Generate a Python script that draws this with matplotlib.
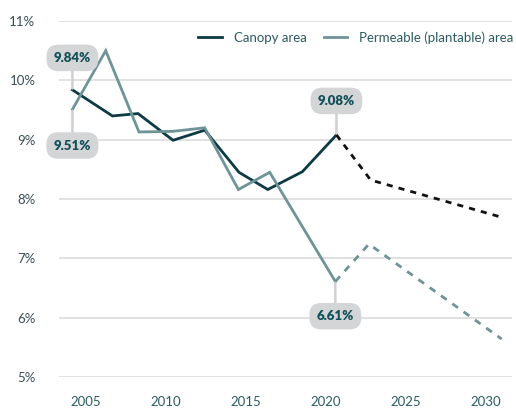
import matplotlib
matplotlib.use("Agg")
import matplotlib.pyplot as plt

plt.rcParams['font.family'] = ['Lato', 'DejaVu Sans']

canopy_years = [2004.17, 2006.67, 2008.27, 2010.46, 2012.44, 2014.58, 2016.38, 2018.54, 2020.67]
canopy_vals = [9.84, 9.40, 9.44, 8.99, 9.16, 8.45, 8.16, 8.46, 9.08]
canopy_proj_years = [2020.67, 2022.81, 2030.9]
canopy_proj_vals = [9.08, 8.32, 7.70]

perm_years = [2004.17, 2006.25, 2008.33, 2010.42, 2012.44, 2014.54, 2016.5, 2020.6]
perm_vals = [9.51, 10.50, 9.13, 9.14, 9.20, 8.16, 8.45, 6.61]
perm_proj_years = [2020.6, 2022.7, 2031.0]
perm_proj_vals = [6.61, 7.24, 5.64]

y_ticks = [5, 6, 7, 8, 9, 10, 11]
x_ticks = [2005, 2010, 2015, 2020, 2025, 2030]

c_canopy = '#0e3a44'
c_perm = '#6e9498'
c_text = '#2b5b62'
c_label = '#124f58'

fig = plt.figure(figsize=(5.16, 4.17), dpi=100)
ax = fig.add_axes([0.1143, 0.0959, 0.8779, 0.8537])

ax.plot(canopy_years, canopy_vals, color=c_canopy, lw=2.0, label='Canopy area', solid_joinstyle='miter', zorder=3)
ax.plot(perm_years, perm_vals, color=c_perm, lw=2.0, label='Permeable (plantable) area', solid_joinstyle='miter', zorder=3)
ax.plot(canopy_proj_years, canopy_proj_vals, color='#111111', lw=2.0, dashes=(2.2, 2.2), zorder=3)
ax.plot(perm_proj_years, perm_proj_vals, color=c_perm, lw=2.0, dashes=(2.5, 2.5), zorder=3)

ax.set_xlim(2003.33, 2031.64)
ax.set_ylim(5, 11)
ax.set_yticks(y_ticks)
ax.set_yticklabels([f'{v}%' for v in y_ticks])
ax.set_xticks(x_ticks)
ax.set_xticklabels([str(v) for v in x_ticks])
ax.grid(axis='y', color='#dcdcdc', lw=1.2)
ax.set_axisbelow(True)
for s in ax.spines.values():
    s.set_visible(False)
ax.tick_params(axis='both', length=0, labelsize=9.5)
ax.tick_params(axis='y', pad=17, labelcolor='#3a4d54')
ax.tick_params(axis='x', pad=14, labelcolor=c_text)

def badge(x, y, text, dy):
    ax.annotate(text, xy=(x, y), xytext=(0, dy), textcoords='offset points',
                ha='center', va='center', fontsize=9.5, fontweight='heavy', color=c_label,
                bbox=dict(boxstyle='round,pad=0.55,rounding_size=0.9', fc='#d4d5d6', ec='none'),
                arrowprops=dict(arrowstyle='-', color='#cfd0d1', lw=1.8, shrinkA=0, shrinkB=1),
                zorder=5)

badge(canopy_years[0], canopy_vals[0], '9.84%', 23)
badge(perm_years[0], perm_vals[0], '9.51%', -26)
badge(canopy_years[-1], canopy_vals[-1], '9.08%', 24.5)
badge(perm_years[-1], perm_vals[-1], '6.61%', -25)

leg = ax.legend(loc='upper right', bbox_to_anchor=(1.03, 1.005), ncol=2, frameon=False,
                fontsize=9.5, handlelength=1.8, columnspacing=1.3, handletextpad=0.9)
for t in leg.get_texts():
    t.set_color(c_text)

fig.savefig('out.png', dpi=100)
